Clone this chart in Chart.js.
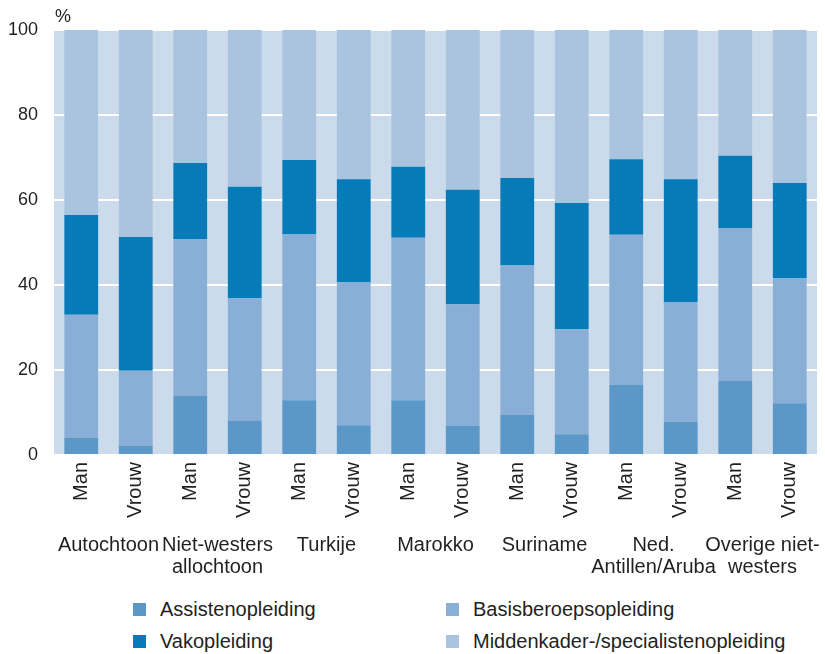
<!DOCTYPE html>
<html>
<head>
<meta charset="utf-8">
<script src="https://cdn.jsdelivr.net/npm/chart.js@4"></script>
<style>
  html, body { margin: 0; padding: 0; background: #fff; }
  #wrap { position: relative; width: 825px; height: 654px; font-family: "Liberation Sans", Arial, sans-serif; color: #231f20; }
  #chartBox { position: absolute; left: 0; top: 0; width: 825px; height: 590px; }
  #unit { position: absolute; left: 55px; top: 6px; font-size: 18px; }
  .leg { position: absolute; font-size: 20px; line-height: 20px; white-space: nowrap; }
  .leg i { position: absolute; left: -27px; top: 4px; width: 13px; height: 13px; }
</style>
</head>
<body>
<div id="wrap">
  <div id="chartBox"><canvas id="chart"></canvas></div>
  <div id="unit">%</div>
  <div class="leg" style="left:160px; top:599px;"><i style="background:#5b98c8"></i>Assistenopleiding</div>
  <div class="leg" style="left:160px; top:631px;"><i style="background:#077bb8"></i>Vakopleiding</div>
  <div class="leg" style="left:473px; top:599px;"><i style="background:#89afd6"></i>Basisberoepsopleiding</div>
  <div class="leg" style="left:473px; top:631px;"><i style="background:#aac4df"></i>Middenkader-/specialistenopleiding</div>
</div>
<script>
/* ---------- data ---------- */
const sexLabels = ["Man", "Vrouw", "Man", "Vrouw", "Man", "Vrouw", "Man", "Vrouw",
                   "Man", "Vrouw", "Man", "Vrouw", "Man", "Vrouw"];
const groupLabels = ["Autochtoon", ["Niet-westers", "allochtoon"], "Turkije", "Marokko",
                     "Suriname", ["Ned.", "Antillen/Aruba"], ["Overige niet-", "westers"]];
const yTicks = [0, 20, 40, 60, 80, 100];

const assisten = [4.0, 2.1, 13.9, 8.0, 12.9, 7.0, 12.9, 6.8, 9.4, 4.9, 16.5, 7.8, 17.4, 12.2];
const basis    = [29.0, 17.7, 36.9, 28.9, 39.1, 33.7, 38.2, 28.7, 35.3, 24.7, 35.3, 28.2, 36.0, 29.4];
const vak      = [23.5, 31.5, 17.9, 26.2, 17.4, 24.2, 16.7, 26.9, 20.5, 29.7, 17.8, 28.9, 17.0, 22.4];
const midden   = [43.5, 48.7, 31.3, 36.9, 30.6, 35.1, 32.2, 37.6, 34.8, 40.7, 30.4, 35.1, 29.6, 36.0];

/* ---------- plot background ---------- */
const plotBg = {
  id: "plotBg",
  beforeDraw(chart) {
    const { ctx, chartArea: a } = chart;
    ctx.save();
    ctx.fillStyle = "#cbdbeb";
    ctx.fillRect(a.left, a.top, a.right - a.left, a.bottom - a.top);
    ctx.restore();
  }
};

const font = { family: "'Liberation Sans', Arial, sans-serif", size: 20 };

function bar(label, data, color) {
  return { label, data, backgroundColor: color, borderWidth: 0,
           barPercentage: 0.62, categoryPercentage: 1 };
}

// fixed axis sizes so the plot area lands where the original has it
function fixHeight(h) {
  return scale => {
    scale.height = h;
    scale.paddingLeft = 0;
    scale.paddingRight = 0;
  };
}

new Chart(document.getElementById("chart"), {
  type: "bar",
  data: {
    labels: sexLabels,
    datasets: [
      bar("Assistenopleiding", assisten, "#5b98c8"),
      bar("Basisberoepsopleiding", basis, "#89afd6"),
      bar("Vakopleiding", vak, "#077bb8"),
      bar("Middenkader-/specialistenopleiding", midden, "#aac4df")
    ]
  },
  options: {
    responsive: true,
    maintainAspectRatio: false,
    animation: false,
    layout: { padding: { left: 8, right: 8, top: 30, bottom: 12 } },
    plugins: { legend: { display: false }, tooltip: { enabled: false } },
    scales: {
      x: {
        stacked: true,
        grid: { display: false, drawTicks: false },
        border: { display: false },
        ticks: { color: "#231f20", font, minRotation: 90, maxRotation: 90, padding: 7 },
        afterFit: fixHeight(65)
      },
      x2: {
        type: "category",
        position: "bottom",
        labels: groupLabels,
        offset: true,
        grid: { display: false, drawTicks: false },
        border: { display: false },
        ticks: { color: "#231f20", font: { ...font, lineHeight: 1.1 }, padding: 14, maxRotation: 0, autoSkip: false },
        afterFit: fixHeight(58)
      },
      y: {
        stacked: true,
        min: 0,
        max: 100,
        afterBuildTicks(s) { s.ticks = yTicks.map(v => ({ value: v })); },
        afterFit(s) { s.width = 46; },
        grid: { color: "#ffffff", lineWidth: 2, drawTicks: false },
        border: { display: false },
        ticks: { color: "#231f20", font: { ...font, size: 18 }, padding: 16 }
      }
    }
  },
  plugins: [plotBg]
});
</script>
</body>
</html>
